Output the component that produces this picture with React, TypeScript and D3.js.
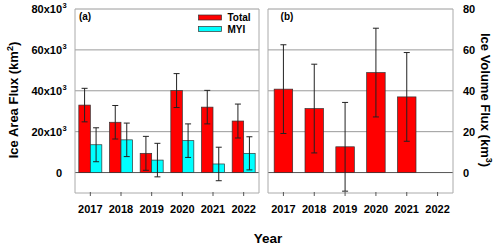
import React from "react";
import * as d3 from "d3";

const years = ["2017", "2018", "2019", "2020", "2021", "2022"];
// ice area flux (x10^3 km^2)
const areaTotal = [33.0, 24.6, 9.4, 40.1, 32.0, 25.2];
const areaTotalErr = [8.2, 8.2, 8.3, 8.3, 8.2, 8.3];
const areaMyi = [13.6, 16.0, 6.1, 15.6, 4.2, 9.4];
const areaMyiErr = [8.3, 8.2, 8.2, 8.2, 8.2, 8.1];
// ice volume flux (km^3), no value for 2022
const volTotal = [40.8, 31.3, 12.6, 48.9, 37.0, null];
const volErr = [21.7, 21.7, 21.7, 21.7, 21.7, null];

const leftTicks = [0, 20, 40, 60, 80];
const rightTicks = [0, 20, 40, 60, 80];

const FONT = "'Liberation Sans', Arial, sans-serif";

export default function App() {
	const W = 500,
		H = 249;
	const top = 9,
		bottom = 193;

	const y = d3.scaleLinear().domain([-10, 80]).range([bottom, top]);

	const xa = d3.scaleBand().domain(years).range([75, 259]);
	const xb = d3.scaleBand().domain(years).range([268, 453]);

	const barA = 11.5;
	const barB = 18.5;

	function errBar(cx, v, e, cap, key) {
		return (
			<g key={key} stroke="#222" strokeWidth={1}>
				<line x1={cx} x2={cx} y1={y(v - e)} y2={y(v + e)} />
				<line x1={cx - cap / 2} x2={cx + cap / 2} y1={y(v + e)} y2={y(v + e)} />
				<line x1={cx - cap / 2} x2={cx + cap / 2} y1={y(v - e)} y2={y(v - e)} />
			</g>
		);
	}

	function frame(x, key) {
		const [x0, x1] = x.range();
		return (
			<g key={key}>
				{[20, 40, 60, 80].map((t) => (
					<line key={t} x1={x0} x2={x1} y1={y(t)} y2={y(t)} stroke="#9a9a9a" strokeWidth={1} />
				))}
				<line x1={x0} x2={x1} y1={y(0)} y2={y(0)} stroke="#555" strokeWidth={1} />
				<line x1={x0} x2={x0} y1={y(80)} y2={bottom} stroke="#aaa" />
				<line x1={x1} x2={x1} y1={y(80)} y2={bottom} stroke="#aaa" />
				<line x1={x0} x2={x1} y1={bottom} y2={bottom} stroke="#aaa" />
				{years.map((yr) => {
					const cx = x(yr) + x.bandwidth() / 2;
					return (
						<g key={yr}>
							<line x1={cx} x2={cx} y1={bottom - 1} y2={bottom + 3} stroke="#555" />
							<text x={cx} y={213} textAnchor="middle" fontSize={11} fontWeight="bold" fontFamily={FONT}>
								{yr}
							</text>
						</g>
					);
				})}
			</g>
		);
	}

	return (
		<div style={{ position: "fixed", left: 0, top: 0 }}>
			<svg width={W} height={H} style={{ display: "block", background: "#fff" }}>
				{frame(xa, "fa")}
				{frame(xb, "fb")}

				{/* panel a bars */}
				{years.map((yr, i) => {
					const cx = xa(yr) + xa.bandwidth() / 2;
					return (
						<g key={yr}>
							<rect x={cx - barA} y={y(areaTotal[i])} width={barA} height={y(0) - y(areaTotal[i])} fill="#ff0000" stroke="#333" strokeWidth={0.7} />
							<rect x={cx} y={y(areaMyi[i])} width={barA} height={y(0) - y(areaMyi[i])} fill="#00ffff" stroke="#333" strokeWidth={0.7} />
						</g>
					);
				})}
				{years.map((yr, i) => {
					const cx = xa(yr) + xa.bandwidth() / 2;
					return (
						<g key={"e" + yr}>
							{errBar(cx - barA / 2, areaTotal[i], areaTotalErr[i], 6, "t")}
							{errBar(cx + barA / 2, areaMyi[i], areaMyiErr[i], 6, "m")}
						</g>
					);
				})}

				{/* panel b bars */}
				{years.map((yr, i) => {
					if (volTotal[i] == null) return null;
					const cx = xb(yr) + xb.bandwidth() / 2;
					return (
						<g key={"b" + yr}>
							<rect x={cx - barB / 2} y={y(volTotal[i])} width={barB} height={y(0) - y(volTotal[i])} fill="#ff0000" stroke="#333" strokeWidth={0.7} />
							{errBar(cx, volTotal[i], volErr[i], 6, "v")}
						</g>
					);
				})}

				{/* panel labels */}
				<text x={85} y={20} textAnchor="middle" fontSize={10} fontWeight="bold" fontFamily={FONT}>(a)</text>
				<text x={287} y={20} textAnchor="middle" fontSize={10} fontWeight="bold" fontFamily={FONT}>(b)</text>

				{/* legend */}
				<rect x={198.5} y={15} width={23} height={5} fill="#ff0000" stroke="#333" strokeWidth={0.7} />
				<text x={227.5} y={21} fontSize={10} fontWeight="bold" fontFamily={FONT}>Total</text>
				<rect x={198.5} y={26.5} width={23} height={5} fill="#00ffff" stroke="#333" strokeWidth={0.7} />
				<text x={227.5} y={33} fontSize={10} fontWeight="bold" fontFamily={FONT}>MYI</text>

				{/* left axis */}
				{leftTicks.map((t) => (
					<g key={"l" + t}>
						<text x={62} y={y(t) + 4} textAnchor="end" fontSize={11} fontWeight="bold" fontFamily={FONT}>
							{t === 0 ? "0" : `${t}x10`}
						</text>
						{t !== 0 && (
							<text x={62.5} y={y(t) - 1} fontSize={7.5} fontWeight="bold" fontFamily={FONT}>3</text>
						)}
					</g>
				))}

				{/* right axis */}
				{rightTicks.map((t) => (
					<text key={"r" + t} x={463} y={y(t) + 4} fontSize={11} fontWeight="bold" fontFamily={FONT}>
						{t}
					</text>
				))}

				{/* axis titles */}
				<text transform="translate(18,100) rotate(-90)" textAnchor="middle" fontSize={13} fontWeight="bold" fontFamily={FONT}>
					Ice Area Flux (km<tspan dy={-5} fontSize={9}>2</tspan><tspan dy={5}>)</tspan>
				</text>
				<text transform="translate(481,100) rotate(90)" textAnchor="middle" fontSize={13} fontWeight="bold" fontFamily={FONT}>
					Ice Volume Flux (km<tspan dy={-5} fontSize={9}>3</tspan><tspan dy={5}>)</tspan>
				</text>
				<text x={268} y={243} textAnchor="middle" fontSize={13.5} fontWeight="bold" fontFamily={FONT}>Year</text>
			</svg>
		</div>
	);
}
